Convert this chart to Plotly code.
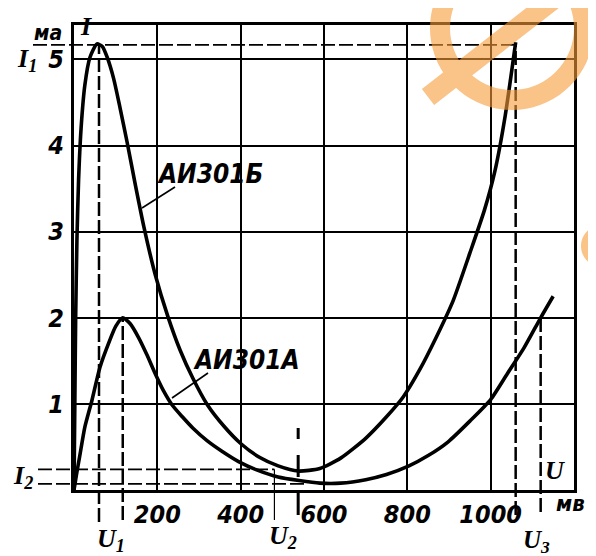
import math
import plotly.graph_objects as go

# ---------------- data (U in mV, I in mA) ----------------
U_B = [0, 2, 4, 7, 11, 17, 26, 38, 55, 68, 80, 95, 110, 127, 147, 168, 195, 225, 255, 285,
       320, 360, 400, 445, 490, 538, 590, 640, 700, 750, 790, 830, 870, 910, 950, 985,
       1010, 1035, 1060]
I_B = [0, 1.0, 2.0, 2.9, 3.6, 4.2, 4.7, 5.02, 5.18, 5.15, 5.02, 4.78, 4.45, 4.05, 3.55, 3.05,
       2.5, 2.02, 1.62, 1.3, 0.99, 0.74, 0.54, 0.38, 0.28, 0.22, 0.25, 0.37, 0.6, 0.85,
       1.08, 1.4, 1.78, 2.2, 2.75, 3.25, 3.7, 4.35, 5.2]

U_A = [0, 6, 14, 26, 43, 62, 86, 100, 117, 135, 155, 175, 195, 215, 235, 260, 285, 320, 355,
       395, 440, 490, 540, 590, 640, 700, 750, 804, 850, 898, 950, 1000, 1040, 1080, 1120, 1150]
I_A = [0, 0.18, 0.4, 0.73, 1.04, 1.42, 1.74, 1.9, 2.0, 1.93, 1.77, 1.57, 1.35, 1.15, 0.99,
       0.85, 0.72, 0.57, 0.45, 0.33, 0.23, 0.15, 0.11, 0.08, 0.08, 0.12, 0.18, 0.28, 0.4,
       0.56, 0.8, 1.05, 1.35, 1.65, 2.0, 2.25]

X_TICKS = [200, 400, 600, 800, 1000]
X_TICK_TEXT = ["200", "400", "600", "800", "1000"]
Y_TICKS = [1, 2, 3, 4, 5]
Y_TICK_TEXT = ["1", "2", "3", "4", "5"]
X_MAX = 1200
Y_MAX = 5.4

# characteristic points
U1 = 60          # peak voltage (АИ301Б)
U_PEAK_A = 117   # peak voltage (АИ301А)
U2 = 481
U_VALLEY_B = 538
U3_B = 1060
U3_A = 1120
I1 = 5.17
I_PEAK_A = 2.0
I2_B = 0.24
I2_A = 0.07

NAME_B = "АИ301Б"
NAME_A = "АИ301А"

# ---------------- layout geometry (page pixels) ----------------
FIG_W, FIG_H = 596, 556
OFF = 8                      # default body margin of the html page
L, R, T, B = 74, 574, 25, 490  # plot area in page pixels
PW, PH = R - L, B - T


def px(xp, yp):
    """page pixel -> paper coords (for text / decoration placement)"""
    return (xp - L) / PW, (B - yp) / PH


def pxx(xp):
    return (xp - L) / PW


def pxy(yp):
    return (B - yp) / PH


NUM_FONT = "DejaVu Sans Condensed, DejaVu Sans"
LET_FONT = "Liberation Serif, DejaVu Serif, serif"

fig = go.Figure()
for u, i in ((U_B, I_B), (U_A, I_A)):
    fig.add_trace(go.Scatter(x=u, y=i, mode="lines", hoverinfo="skip",
                             line=dict(color="black", width=3.6, shape="spline", smoothing=0.6)))

shapes = []
DASH = "14px,4px"


def vline(u, i_top, y_bottom_px, width=2.5, dash=DASH):
    shapes.append(dict(type="line", xref="x", yref="paper", x0=u, x1=u,
                       y0=pxy(y_bottom_px), y1=i_top / Y_MAX,
                       line=dict(color="black", width=width, dash=dash)))


vline(U1, I1, 522)
vline(U_PEAK_A, I_PEAK_A, 520)
vline(U2, I2_B, 520, width=1.2, dash="solid")
vline(U_VALLEY_B, 0.72, 515, width=3, dash="22px,16px")
vline(U3_B, I1, 515)
vline(U3_A, I_PEAK_A, 512)


def hline(i, x_left_px, u_right, width=1.8):
    shapes.append(dict(type="line", xref="paper", yref="y", x0=pxx(x_left_px),
                       x1=u_right / X_MAX, y0=i, y1=i,
                       line=dict(color="black", width=width, dash=DASH)))


hline(I1, 33, U3_B)
hline(I2_B, 38, U2)
hline(I2_A, 38, 560)

# label pointer lines
for (xa, ya, xb, yb) in ((175, 187, 142, 208), (208, 373, 172, 398)):
    x0, y0 = px(xa, ya)
    x1, y1 = px(xb, yb)
    shapes.append(dict(type="line", xref="paper", yref="paper", x0=x0, y0=y0, x1=x1, y1=y1,
                       line=dict(color="black", width=1.6)))


# ---- watermark (orange ring with slash + small disc at right edge) ----
def circle_pts(cx, cy, r, n=72, ccw=True):
    pts = []
    for k in range(n):
        a = 2 * math.pi * k / n
        if not ccw:
            a = -a
        pts.append((cx + r * math.cos(a), cy + r * math.sin(a)))
    return pts


def path_from(poly_list):
    s = ""
    for poly in poly_list:
        for k, (xp, yp) in enumerate(poly):
            xx, yy = px(xp, yp)
            s += ("M" if k == 0 else "L") + f"{xx:.5f},{yy:.5f} "
        s += "Z "
    return s


def area(p):
    return sum(p[k][0] * p[(k + 1) % len(p)][1] - p[(k + 1) % len(p)][0] * p[k][1]
               for k in range(len(p)))


cx, cy = 512, 28
outer = circle_pts(cx, cy, 82, ccw=True)
inner = circle_pts(cx, cy, 62, ccw=False)
sx0, sy0, sx1, sy1 = 428, 97, 585, -25
dx, dy = sx1 - sx0, sy1 - sy0
ln = math.hypot(dx, dy)
nx, ny = -dy / ln * 10, dx / ln * 10
slash = [(sx0 + nx, sy0 + ny), (sx1 + nx, sy1 + ny), (sx1 - nx, sy1 - ny), (sx0 - nx, sy0 - ny)]
if (area(slash) > 0) != (area(outer) > 0):
    slash = slash[::-1]

WM = "#F79B37"
shapes.append(dict(type="path", xref="paper", yref="paper", path=path_from([outer, inner, slash]),
                   fillcolor=WM, line=dict(width=0), opacity=0.6, layer="above", fillrule="nonzero"))
shapes.append(dict(type="path", xref="paper", yref="paper",
                   path=path_from([circle_pts(602, 246, 21)]),
                   fillcolor=WM, line=dict(width=0), opacity=0.6, layer="above"))

# ---------------- texts ----------------
annotations = []


def text(t, xp, yp, size, family=NUM_FONT, weight="normal"):
    x, y = px(xp, yp)
    annotations.append(dict(text=t, x=x, y=y, xref="paper", yref="paper", showarrow=False,
                            xanchor="center", yanchor="middle",
                            font=dict(family=family, size=size, color="black",
                                      style="italic", weight=weight)))


text(NAME_B, 210, 174, 26, weight="bold")
text(NAME_A, 246, 360, 26, weight="bold")
text("ма", 48, 33, 21, weight="bold")
text("I", 86, 26, 26, family=LET_FONT, weight="bold")
text("I<sub>1</sub>", 27, 60, 26, family=LET_FONT, weight="bold")
text("I<sub>2</sub>", 23, 477, 26, family=LET_FONT, weight="bold")
text("U<sub>1</sub>", 111, 540, 26, family=LET_FONT, weight="bold")
text("U<sub>2</sub>", 283, 537, 26, family=LET_FONT, weight="bold")
text("U<sub>3</sub>", 536, 541, 25, family=LET_FONT, weight="bold")
text("U", 555, 470, 26, family=LET_FONT, weight="bold")
text("мв", 570, 504, 22, weight="bold")

TICK_FONT = dict(family=NUM_FONT, size=25, color="black", style="italic", weight="bold")

fig.update_layout(
    width=FIG_W, height=FIG_H,
    margin=dict(l=L - OFF, r=FIG_W - (R - OFF), t=T - OFF, b=FIG_H - (B - OFF), pad=0),
    paper_bgcolor="white", plot_bgcolor="white",
    showlegend=False,
    shapes=shapes, annotations=annotations,
    xaxis=dict(range=[0, X_MAX], tickvals=X_TICKS, ticktext=X_TICK_TEXT,
               showgrid=True, gridcolor="black", gridwidth=2, zeroline=False,
               showline=True, mirror=True, linecolor="black", linewidth=3,
               ticks="", ticklabelstandoff=0, tickfont=TICK_FONT),
    yaxis=dict(range=[0, Y_MAX], tickvals=Y_TICKS, ticktext=Y_TICK_TEXT,
               showgrid=True, gridcolor="black", gridwidth=2, zeroline=False,
               showline=True, mirror=True, linecolor="black", linewidth=3,
               ticks="", ticklabelstandoff=2, tickfont=TICK_FONT),
)

fig.write_html("out.html")
